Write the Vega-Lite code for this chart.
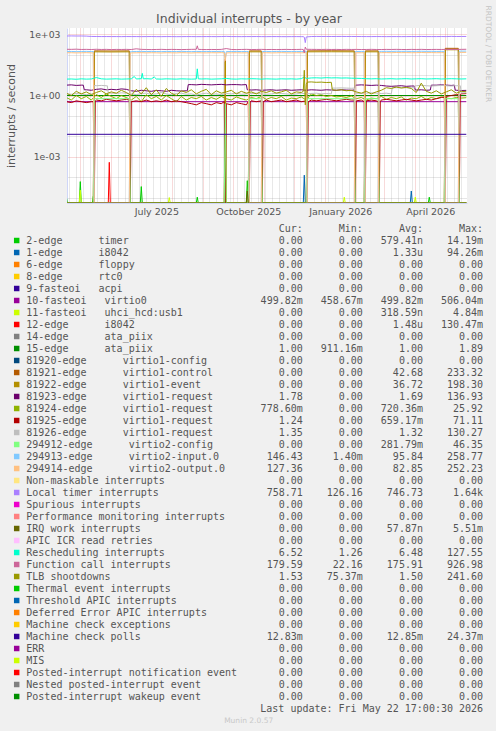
{
"$schema": "https://vega.github.io/schema/vega-lite/v6.json",
"background": "#f0f0f0",
"padding": {"left": 5, "top": 5, "right": 4, "bottom": 8},
"spacing": 7.5,
"title": {"text": "RRDTOOL / TOBI OETIKER", "orient": "right", "anchor": "start", "fontSize": 7.5, "font": "DejaVu Sans", "fontWeight": "normal", "color": "#c4c4c4", "offset": 1, "dx": -7},
"resolve": {"scale": {"color": "independent", "x": "independent", "y": "independent"}},
"config": {"view": {"stroke": null}, "font": "DejaVu Sans"},
"vconcat": [
{
"width": 400,
"height": 175,
"view": {"fill": "#ffffff", "stroke": null},
"title": {"text": "Individual interrupts - by year", "anchor": "middle", "frame": "group", "dx": -18, "fontSize": 12.5, "fontWeight": "normal", "color": "#555555", "font": "DejaVu Sans", "baseline": "alphabetic", "offset": -7},
"data": {"values": [
{"d":"2025-04-17","LOC":800,"CAL":180,"RES":6.3,"TLB":1.3,"R3":3.2,"R4":0.8,"R5":0.5,"R6":1.2,"VI":139,"VO":121,"T2":1.2e-5,"I1":0,"V0":0.5,"U11":0,"R12":0,"A15":1,"C1":0,"E1":0,"VC":0,"IWI":0,"MCP":0.0128},
{"d":"2025-04-18","T2":0},
{"d":"2025-04-22","LOC":805,"CAL":178,"RES":6.4,"TLB":1.0,"R3":3.3,"R4":0.6,"R5":0.45,"R6":1.15,"VI":141,"VO":122},
{"d":"2025-04-27","LOC":798,"CAL":182,"RES":6.2,"TLB":1.6,"R3":3.1,"R4":1.0,"R5":0.55,"R6":1.25,"VI":138,"VO":120},
{"d":"2025-04-30","T2":0,"U11":0},
{"d":"2025-05-01","T2":6.3e-5,"U11":2.4e-5},
{"d":"2025-05-02","LOC":800,"CAL":176,"RES":6.5,"TLB":1.2,"R3":3.2,"R4":0.7,"R5":0.5,"R6":1.2,"VI":140,"VO":121,"T2":0,"U11":0},
{"d":"2025-05-04","R3":3.2},
{"d":"2025-05-05","R3":1.9},
{"d":"2025-05-07","LOC":790,"CAL":178,"RES":6.3,"TLB":1.5,"R3":1.9,"R4":0.9,"R5":0.45,"R6":1.1,"VI":142,"VO":123},
{"d":"2025-05-12","LOC":760,"CAL":175,"RES":6.4,"TLB":1.1,"R3":1.8,"R4":0.6,"R5":0.5,"R6":1.2,"VI":139,"VO":120},
{"d":"2025-05-13","T2":0},
{"d":"2025-05-14","T2":1.2e-5,"C1":0,"E1":0,"VC":0,"VI":140,"VO":121,"R5":0.5,"R6":1.2},
{"d":"2025-05-15","T2":0,"C1":150,"E1":135,"VC":0.7,"VI":0,"VO":0,"R5":0,"R6":3.1},
{"d":"2025-05-16","R5":0.55},
{"d":"2025-05-17","LOC":755,"CAL":180,"RES":7.5,"TLB":1.4,"R3":2.0,"R4":1.1,"R5":0.6,"R6":3.0},
{"d":"2025-05-22","LOC":750,"CAL":176,"RES":6.5,"TLB":1.7,"R3":2.1,"R4":0.8,"R5":0.55,"R6":3.1},
{"d":"2025-05-27","LOC":752,"CAL":178,"RES":6.3,"TLB":1.2,"R3":1.9,"R4":1.2,"R5":0.65,"R6":3.0},
{"d":"2025-05-28","R6":3.0},
{"d":"2025-05-29","R6":1.3,"R12":0},
{"d":"2025-05-30","R12":5.5e-4},
{"d":"2025-05-31","R12":0},
{"d":"2025-06-01","LOC":748,"CAL":174,"RES":6.4,"TLB":1.5,"R3":2.0,"R4":0.9,"R5":0.6,"R6":1.3,"C1":148,"E1":133},
{"d":"2025-06-06","LOC":750,"CAL":177,"RES":6.5,"TLB":1.3,"R3":1.9,"R4":0.7,"R5":0.55,"R6":1.25},
{"d":"2025-06-11","LOC":745,"CAL":176,"RES":6.3,"TLB":1.8,"R3":2.1,"R4":1.0,"R5":0.6,"R6":1.35},
{"d":"2025-06-16","LOC":752,"CAL":178,"RES":6.4,"TLB":1.4,"R3":2.0,"R4":0.8,"R5":0.65,"R6":1.3},
{"d":"2025-06-19","C1":150,"E1":135,"VC":0.7,"VI":0,"VO":0,"R5":0.6},
{"d":"2025-06-20","C1":0,"E1":0,"VC":0,"VI":138,"VO":120,"R5":0},
{"d":"2025-06-21","LOC":748,"CAL":175,"RES":6.5,"TLB":1.0,"R3":1.7,"R4":0.6,"R5":0.5,"R6":1.2,"VI":138,"VO":120},
{"d":"2025-06-24","RES":8.5},
{"d":"2025-06-26","LOC":750,"CAL":190,"RES":6.4,"TLB":2.0,"R3":1.6,"R4":0.9,"R5":0.55,"R6":1.1,"VI":140,"VO":121},
{"d":"2025-06-30","T2":0},
{"d":"2025-07-01","LOC":745,"CAL":178,"RES":6.6,"TLB":1.2,"R3":1.8,"R4":0.5,"R5":0.5,"R6":1.25,"VI":142,"VO":123,"T2":3.6e-5},
{"d":"2025-07-02","RES":12,"T2":0},
{"d":"2025-07-03","RES":6.5},
{"d":"2025-07-06","LOC":748,"CAL":176,"RES":6.6,"TLB":2.4,"R3":1.7,"R4":1.1,"R5":0.6,"R6":1.3,"VI":139,"VO":120},
{"d":"2025-07-11","LOC":752,"CAL":174,"RES":6.4,"TLB":1.1,"R3":1.6,"R4":0.7,"R5":0.5,"R6":1.15,"VI":141,"VO":122},
{"d":"2025-07-14","RES":8},
{"d":"2025-07-16","LOC":746,"CAL":176,"RES":6.4,"TLB":1.9,"R3":1.75,"R4":0.9,"R5":0.55,"R6":1.2,"VI":140,"VO":121},
{"d":"2025-07-21","LOC":744,"CAL":178,"RES":6.3,"TLB":0.9,"R3":1.7,"R4":0.6,"R5":0.5,"R6":1.4,"VI":138,"VO":119},
{"d":"2025-07-26","LOC":750,"CAL":175,"RES":6.5,"TLB":2.2,"R3":1.6,"R4":1.0,"R5":0.6,"R6":1.2,"VI":141,"VO":122},
{"d":"2025-07-28","U11":0},
{"d":"2025-07-29","U11":1.05e-5},
{"d":"2025-07-30","U11":0},
{"d":"2025-07-31","LOC":748,"CAL":177,"RES":6.4,"TLB":1.3,"R3":1.8,"R4":0.7,"R5":0.5,"R6":1.1,"VI":140,"VO":121},
{"d":"2025-08-05","LOC":742,"CAL":176,"RES":6.3,"TLB":1.0,"R3":1.7,"R4":0.5,"R5":0.55,"R6":1.25,"VI":139,"VO":120},
{"d":"2025-08-10","LOC":745,"CAL":174,"RES":6.5,"TLB":1.7,"R3":1.65,"R4":0.9,"R5":0.5,"R6":1.3,"VI":142,"VO":123},
{"d":"2025-08-15","LOC":750,"CAL":176,"RES":6.4,"TLB":1.4,"R3":1.7,"R4":0.6,"R5":0.45,"R6":1.15,"VI":140,"VO":121},
{"d":"2025-08-16","R3":1.7},
{"d":"2025-08-17","R3":3.4},
{"d":"2025-08-20","LOC":748,"CAL":178,"RES":6.3,"TLB":1.9,"R3":3.4,"R4":0.8,"R5":0.4,"R6":1.2,"VI":138,"VO":119},
{"d":"2025-08-25","LOC":744,"CAL":180,"RES":6.4,"TLB":1.2,"R3":3.3,"R4":0.7,"R5":0.35,"R6":1.05,"VI":141,"VO":122,"T2":0},
{"d":"2025-08-26","CAL":265,"RES":20,"T2":1.1e-5},
{"d":"2025-08-27","CAL":178,"RES":6.5,"T2":0},
{"d":"2025-08-30","LOC":746,"CAL":176,"RES":6.4,"TLB":1.6,"R3":3.5,"R4":0.9,"R5":0.45,"R6":1.2,"VI":140,"VO":121},
{"d":"2025-09-04","LOC":750,"CAL":174,"RES":6.5,"TLB":2.0,"R3":3.4,"R4":0.6,"R5":0.4,"R6":1.3,"VI":139,"VO":120},
{"d":"2025-09-09","LOC":748,"CAL":176,"RES":6.3,"TLB":1.1,"R3":3.3,"R4":0.8,"R5":0.35,"R6":1.15,"VI":141,"VO":122},
{"d":"2025-09-14","LOC":745,"CAL":175,"RES":6.4,"TLB":1.7,"R3":3.4,"R4":0.65,"R5":0.45,"R6":1.2,"VI":140,"VO":121},
{"d":"2025-09-19","LOC":750,"CAL":177,"RES":6.5,"TLB":1.3,"R3":3.5,"R4":0.9,"R5":0.4,"R6":1.1,"VI":142,"VO":123},
{"d":"2025-09-22","C1":0,"E1":0,"VC":0,"R5":0.5,"U11":0,"R12":0,"VI":140,"VO":121},
{"d":"2025-09-23","C1":60,"E1":45,"VC":0.4,"VI":60,"VO":50,"R5":0,"U11":2e-5,"R12":1e-5},
{"d":"2025-09-24","LOC":765,"CAL":195,"RES":6.8,"TLB":1.5,"R3":3.3,"R4":0.7,"R5":0.4,"R6":1.25,"VI":139,"VO":120,"C1":0,"E1":0,"VC":0,"U11":0,"R12":0},
{"d":"2025-09-29","LOC":750,"CAL":176,"RES":6.4,"TLB":1.8,"R3":3.4,"R4":0.6,"R5":0.35,"R6":1.2,"VI":140,"VO":121},
{"d":"2025-10-04","LOC":748,"CAL":174,"RES":6.3,"TLB":1.2,"R3":3.4,"R4":0.85,"R5":0.45,"R6":1.3,"VI":141,"VO":122},
{"d":"2025-10-09","LOC":745,"CAL":176,"RES":6.5,"TLB":1.6,"R3":3.3,"R4":0.7,"R5":0.4,"R6":1.15,"VI":139,"VO":120},
{"d":"2025-10-14","LOC":750,"CAL":178,"RES":6.4,"TLB":1.3,"R3":3.4,"R4":0.6,"R5":0.35,"R6":1.2,"VI":140,"VO":121,"T2":0,"IWI":0},
{"d":"2025-10-15","T2":7e-5,"IWI":2.2e-5,"R3":1.9},
{"d":"2025-10-16","T2":0,"IWI":0,"C1":0,"E1":0,"VC":0,"VI":140,"VO":122,"R5":0.5},
{"d":"2025-10-17","C1":150,"E1":135,"VC":0.7,"VI":0,"VO":0,"R5":0},
{"d":"2025-10-18","R5":0.5},
{"d":"2025-10-19","LOC":748,"CAL":175,"RES":6.6,"TLB":1.5,"R3":1.85,"R4":0.8,"R5":0.55,"R6":1.25},
{"d":"2025-10-24","LOC":752,"CAL":176,"RES":6.5,"TLB":1.2,"R3":1.9,"R4":0.7,"R5":0.5,"R6":1.3},
{"d":"2025-10-29","LOC":746,"CAL":178,"RES":6.3,"TLB":1.6,"R3":1.8,"R4":0.9,"R5":0.55,"R6":1.2,"C1":150,"E1":135,"VC":0.7,"VI":0,"VO":0},
{"d":"2025-10-30","C1":0,"E1":0,"VC":0,"VI":140,"VO":122,"R5":0},
{"d":"2025-10-31","R5":0.5},
{"d":"2025-11-03","LOC":744,"CAL":175,"RES":6.5,"TLB":1.4,"R3":1.85,"R4":0.65,"R5":0.6,"R6":1.15,"VI":141,"VO":122},
{"d":"2025-11-08","LOC":748,"CAL":176,"RES":6.4,"TLB":1.7,"R3":1.9,"R4":0.8,"R5":0.5,"R6":1.2,"VI":139,"VO":120},
{"d":"2025-11-13","LOC":750,"CAL":174,"RES":6.3,"TLB":1.3,"R3":1.8,"R4":0.7,"R5":0.55,"R6":1.3,"VI":140,"VO":121},
{"d":"2025-11-18","LOC":745,"CAL":176,"RES":6.5,"TLB":1.5,"R3":1.85,"R4":0.9,"R5":0.6,"R6":1.25,"VI":142,"VO":123},
{"d":"2025-11-23","LOC":742,"CAL":177,"RES":6.4,"TLB":1.8,"R3":1.9,"R4":0.6,"R5":0.5,"R6":1.2,"VI":140,"VO":121},
{"d":"2025-11-28","LOC":746,"CAL":175,"RES":6.5,"TLB":1.2,"R3":1.8,"R4":0.75,"R5":0.55,"R6":1.15,"VI":139,"VO":120},
{"d":"2025-12-03","LOC":748,"CAL":176,"RES":6.3,"TLB":1.5,"R3":1.85,"R4":0.7,"R5":0.6,"R6":1.2,"VI":141,"VO":122},
{"d":"2025-12-08","LOC":745,"CAL":178,"RES":6.6,"TLB":1.4,"R3":1.9,"R4":0.85,"R5":0.5,"R6":1.3,"VI":140,"VO":121},
{"d":"2025-12-10","LOC":745,"CAL":176,"TLB":1.6,"I1":0},
{"d":"2025-12-11","LOC":700,"CAL":120,"TLB":17,"RES":8,"I1":1.3e-4},
{"d":"2025-12-12","LOC":380,"CAL":230,"TLB":0.35,"I1":0},
{"d":"2025-12-13","LOC":720,"CAL":180,"RES":6.8,"TLB":3.5,"R3":1.8,"R4":0.6,"R5":0.55,"R6":1.2,"VI":142,"VO":123,"C1":0,"E1":0,"VC":0},
{"d":"2025-12-14","C1":150,"E1":135,"VC":0.7,"VI":0,"VO":0,"R5":0,"TLB":4.5},
{"d":"2025-12-15","R5":0.5},
{"d":"2025-12-18","LOC":752,"CAL":178,"RES":7.2,"TLB":4.6,"R3":1.9,"R4":1.2,"R5":0.6,"R6":1.25},
{"d":"2025-12-23","LOC":760,"CAL":177,"RES":7.3,"TLB":4.4,"R3":1.85,"R4":1.0,"R5":0.55,"R6":1.3},
{"d":"2025-12-28","LOC":756,"CAL":176,"RES":7.1,"TLB":4.5,"R3":1.8,"R4":1.1,"R5":0.6,"R6":1.2},
{"d":"2026-01-02","LOC":758,"CAL":178,"RES":7.4,"TLB":4.3,"R3":1.9,"R4":0.9,"R5":0.65,"R6":1.25},
{"d":"2026-01-07","LOC":755,"CAL":176,"RES":7.2,"TLB":4.4,"R3":1.85,"R4":1.0,"R5":0.6,"R6":1.2,"C1":152,"E1":136},
{"d":"2026-01-08","R6":2.3,"TLB":1.9},
{"d":"2026-01-12","LOC":758,"CAL":177,"RES":7.3,"TLB":1.8,"R3":1.8,"R4":0.85,"R5":0.55,"R6":2.3},
{"d":"2026-01-17","LOC":760,"CAL":175,"RES":7.1,"TLB":1.9,"R3":1.9,"R4":0.9,"R5":0.6,"R6":2.35},
{"d":"2026-01-19","U11":0},
{"d":"2026-01-20","U11":1.1e-5},
{"d":"2026-01-21","U11":0},
{"d":"2026-01-22","LOC":756,"CAL":178,"RES":7.2,"TLB":1.7,"R3":1.85,"R4":0.8,"R5":0.65,"R6":2.3},
{"d":"2026-01-27","LOC":758,"CAL":176,"RES":7.0,"TLB":1.8,"R3":1.8,"R4":0.95,"R5":0.6,"R6":2.25},
{"d":"2026-01-30","C1":150,"E1":135,"VC":0.7,"VI":0,"VO":0,"R5":0.6,"R3":1.85,"R6":2.3},
{"d":"2026-01-31","C1":0,"E1":0,"VC":0,"VI":140,"VO":121,"R5":0,"R3":3.2,"R6":1.3},
{"d":"2026-02-01","LOC":755,"CAL":177,"RES":6.9,"TLB":1.5,"R3":3.2,"R4":0.7,"R5":0.55,"R6":1.3,"VI":140,"VO":121},
{"d":"2026-02-06","LOC":752,"CAL":175,"RES":6.8,"TLB":1.3,"R3":3.3,"R4":0.8,"R5":0.6,"R6":1.25,"VI":141,"VO":122},
{"d":"2026-02-09","C1":0,"E1":0,"VC":0,"VI":140,"VO":122,"R5":0.5},
{"d":"2026-02-10","C1":150,"E1":135,"VC":0.7,"VI":0,"VO":0,"R5":0},
{"d":"2026-02-11","LOC":750,"CAL":176,"RES":6.6,"TLB":1.6,"R3":3.2,"R4":0.6,"R5":0.55,"R6":1.3},
{"d":"2026-02-16","LOC":748,"CAL":178,"RES":6.5,"TLB":1.2,"R3":3.1,"R4":0.75,"R5":0.6,"R6":1.35},
{"d":"2026-02-21","LOC":752,"CAL":176,"RES":6.6,"TLB":1.5,"R3":3.2,"R4":0.7,"R5":0.55,"R6":1.3},
{"d":"2026-02-23","C1":150,"E1":135,"VC":0.7,"VI":0,"VO":0,"R5":0.5},
{"d":"2026-02-24","C1":0,"E1":0,"VC":0,"VI":142,"VO":123,"R5":0},
{"d":"2026-02-25","R5":0.5},
{"d":"2026-02-26","LOC":750,"CAL":175,"RES":6.4,"TLB":1.8,"R3":3.1,"R4":0.9,"R5":0.6,"R6":1.25,"VI":142,"VO":123},
{"d":"2026-03-03","LOC":746,"CAL":177,"RES":6.5,"TLB":2.4,"R3":2.9,"R4":0.65,"R5":0.65,"R6":1.3,"VI":143,"VO":124},
{"d":"2026-03-08","LOC":748,"CAL":176,"RES":6.6,"TLB":2.2,"R3":2.8,"R4":0.8,"R5":0.6,"R6":1.2,"VI":141,"VO":122},
{"d":"2026-03-09","R6":2.4},
{"d":"2026-03-13","LOC":750,"CAL":178,"RES":6.4,"TLB":2.6,"R3":2.9,"R4":0.7,"R5":0.55,"R6":2.4,"VI":144,"VO":125},
{"d":"2026-03-18","LOC":746,"CAL":176,"RES":6.5,"TLB":2.3,"R3":3.0,"R4":0.85,"R5":0.6,"R6":2.45,"VI":142,"VO":123},
{"d":"2026-03-23","LOC":748,"CAL":175,"RES":6.6,"TLB":2.5,"R3":2.8,"R4":0.6,"R5":0.65,"R6":2.4,"VI":143,"VO":124},
{"d":"2026-03-27","I1":0},
{"d":"2026-03-28","LOC":752,"CAL":177,"RES":6.4,"TLB":2.2,"R3":2.9,"R4":0.75,"R5":0.6,"R6":2.4,"VI":141,"VO":122,"I1":2.2e-5},
{"d":"2026-03-29","I1":0},
{"d":"2026-03-31","R3":2.9,"R6":2.4,"U11":0},
{"d":"2026-04-01","R3":1.85,"R6":3.0,"U11":1.1e-5},
{"d":"2026-04-02","LOC":748,"CAL":176,"RES":6.5,"TLB":1.4,"R3":1.85,"R4":0.7,"R5":0.55,"R6":3.0,"VI":142,"VO":123,"U11":0},
{"d":"2026-04-07","LOC":760,"CAL":178,"RES":6.6,"TLB":4.0,"R3":1.9,"R4":0.9,"R5":0.6,"R6":3.1,"VI":144,"VO":125},
{"d":"2026-04-12","LOC":750,"CAL":175,"RES":6.4,"TLB":1.6,"R3":1.8,"R4":0.65,"R5":0.65,"R6":3.0,"VI":142,"VO":123},
{"d":"2026-04-14","T2":0},
{"d":"2026-04-15","T2":1.1e-5},
{"d":"2026-04-16","T2":0,"R3":1.85},
{"d":"2026-04-17","LOC":748,"CAL":176,"RES":6.5,"TLB":1.3,"R3":3.2,"R4":0.8,"R5":0.6,"R6":2.9,"VI":143,"VO":124},
{"d":"2026-04-22","LOC":750,"CAL":177,"RES":6.6,"TLB":1.7,"R3":3.2,"R4":0.7,"R5":0.7,"R6":3.0,"VI":141,"VO":122},
{"d":"2026-04-27","LOC":752,"CAL":176,"RES":6.4,"TLB":1.2,"R3":3.3,"R4":0.85,"R5":0.8,"R6":3.1,"VI":142,"VO":123},
{"d":"2026-04-30","C1":0,"E1":0,"VC":0,"VI":142,"VO":124,"R5":0.85},
{"d":"2026-05-01","C1":200,"E1":170,"VC":0.7,"VI":0,"VO":0,"R5":0},
{"d":"2026-05-02","LOC":748,"CAL":178,"RES":6.5,"TLB":1.5,"R3":3.2,"R4":0.75,"R5":0.9,"R6":3.0},
{"d":"2026-05-07","LOC":765,"CAL":175,"RES":6.6,"TLB":1.9,"R3":3.1,"R4":0.7,"R5":1.0,"R6":2.9},
{"d":"2026-05-10","R3":3.2},
{"d":"2026-05-11","R3":1.8},
{"d":"2026-05-12","LOC":755,"CAL":176,"RES":6.5,"TLB":1.3,"R3":1.8,"R4":0.8,"R5":1.1,"R6":3.0},
{"d":"2026-05-14","C1":200,"E1":170,"VC":0.7,"VI":0,"VO":0,"R5":1.1},
{"d":"2026-05-15","C1":0,"E1":0,"VC":0,"VI":146,"VO":127,"R5":0},
{"d":"2026-05-16","R5":1.15,"R6":3.0},
{"d":"2026-05-17","LOC":758,"CAL":178,"RES":6.4,"TLB":1.6,"R3":1.75,"R4":0.75,"R5":1.2,"R6":1.35,"VI":146,"VO":127},
{"d":"2026-05-22","LOC":759,"CAL":180,"RES":6.5,"TLB":1.53,"R3":1.78,"R4":0.78,"R5":1.24,"R6":1.35,"VI":146.43,"VO":127.36,"C1":0,"E1":0,"VC":0,"T2":0,"I1":0,"U11":0,"R12":0,"IWI":0,"A15":1,"V0":0.5,"MCP":0.0128}
]},
"transform": [
{"fold": ["T2","I1","V0","U11","R12","A15","C1","E1","R3","R4","R5","R6","VC","VI","VO","LOC","IWI","RES","CAL","TLB","MCP"], "as": ["k","v"]},
{"filter": "isValid(datum.v)"}
],
"mark": {"type": "line", "strokeWidth": 1, "clip": true, "invalid": "show"},
"encoding": {
"x": {"field": "d", "type": "temporal",
 "scale": {"type": "utc", "domain": [{"year": 2025, "month": 4, "date": 17, "hours": 17, "utc": true}, {"year": 2026, "month": 5, "date": 22, "hours": 17, "utc": true}]},
 "axis": {"title": null, "tickCount": {"interval": "day", "step": 1}, "grid": true,
  "gridColor": {"condition": {"test": "utcdate(datum.value) == 1", "value": "rgba(222,79,79,0.42)"}, "value": "rgba(143,143,143,0.42)"},
  "gridOpacity": {"condition": {"test": "utcdate(datum.value) == 1 || utcday(datum.value) == 0", "value": 1}, "value": 0},
  "gridDash": [1, 1], "ticks": false, "domainColor": "#CFD6F8",
  "labelExpr": "utcdate(datum.value) == 16 && utcmonth(datum.value) % 3 == 0 ? utcFormat(datum.value, '%B %Y') : ''",
  "labelFlush": false, "labelOverlap": false, "labelFont": "DejaVu Sans", "labelFontSize": 9.5, "labelColor": "#555555", "labelPadding": 3}},
"y": {"field": "v", "type": "quantitative",
 "scale": {"type": "log", "domain": [5.7e-6, 1963], "nice": false, "clamp": true},
 "axis": {"title": "interrupts / second", "values": [0.00001, 0.0001, 0.001, 0.01, 0.1, 1, 10, 100, 1000], "grid": true,
  "gridColor": {"condition": {"test": "datum.value == 1000 || datum.value == 1 || datum.value == 0.001", "value": "rgba(222,79,79,0.45)"}, "value": "rgba(143,143,143,0.45)"},
  "gridDash": [1, 1], "ticks": false, "domainColor": "#CFD6F8", "labelOverlap": false,
  "labelExpr": "datum.value == 1000 ? '1e+03' : (datum.value == 1 ? '1e+00' : (datum.value == 0.001 ? '1e-03' : ''))",
  "labelFont": "DejaVu Sans", "labelFontSize": 9.3, "labelColor": "#555555", "labelPadding": 7,
  "titleFont": "DejaVu Sans", "titleFontSize": 11, "titleFontWeight": "normal", "titleColor": "#555555", "titlePadding": 12}},
"color": {"field": "k", "type": "nominal", "legend": null,
 "scale": {"domain": ["T2","I1","F6","RTC","ACPI","V0","U11","R12","A14","A15","CF1","C1","E1","R3","R4","R5","R6","VC","VI","VO","NMI","LOC","SPU","PMI","IWI","RTR","RES","CAL","TLB","TRM","THR","DFR","MCE","MCP","ERR","MIS","PIN","NPI","PIW"],
  "range": ["#00CC00","#0066B3","#FF8000","#FFCC00","#330099","#990099","#CCFF00","#FF0000","#808080","#008F00","#00487D","#B35A00","#B38F00","#6B006B","#8FB300","#B30000","#BEBEBE","#80FF80","#80C9FF","#FFC080","#FFE680","#AA80FF","#EE00CC","#FF8080","#666600","#FFBFFF","#00FFCC","#CC6699","#999900","#00CC00","#0066B3","#FF8000","#FFCC00","#330099","#990099","#CCFF00","#FF0000","#808080","#008F00"]}}
}
},
{
"width": 410,
"height": 492,
"view": {"stroke": null},
"data": {"values": [
{"k":"hdr","cur":"Cur:","min":"Min:","avg":"Avg:","max":"Max:"},
{"k":"T2","label":"2-edge      timer","cur":"0.00","min":"0.00","avg":"579.41n","max":"14.19m"},
{"k":"I1","label":"1-edge      i8042","cur":"0.00","min":"0.00","avg":"1.33u","max":"94.26m"},
{"k":"F6","label":"6-edge      floppy","cur":"0.00","min":"0.00","avg":"0.00","max":"0.00"},
{"k":"RTC","label":"8-edge      rtc0","cur":"0.00","min":"0.00","avg":"0.00","max":"0.00"},
{"k":"ACPI","label":"9-fasteoi   acpi","cur":"0.00","min":"0.00","avg":"0.00","max":"0.00"},
{"k":"V0","label":"10-fasteoi   virtio0","cur":"499.82m","min":"458.67m","avg":"499.82m","max":"506.04m"},
{"k":"U11","label":"11-fasteoi   uhci_hcd:usb1","cur":"0.00","min":"0.00","avg":"318.59n","max":"4.84m"},
{"k":"R12","label":"12-edge      i8042","cur":"0.00","min":"0.00","avg":"1.48u","max":"130.47m"},
{"k":"A14","label":"14-edge      ata_piix","cur":"0.00","min":"0.00","avg":"0.00","max":"0.00"},
{"k":"A15","label":"15-edge      ata_piix","cur":"1.00","min":"911.16m","avg":"1.00","max":"1.89"},
{"k":"CF1","label":"81920-edge      virtio1-config","cur":"0.00","min":"0.00","avg":"0.00","max":"0.00"},
{"k":"C1","label":"81921-edge      virtio1-control","cur":"0.00","min":"0.00","avg":"42.68","max":"233.32"},
{"k":"E1","label":"81922-edge      virtio1-event","cur":"0.00","min":"0.00","avg":"36.72","max":"198.30"},
{"k":"R3","label":"81923-edge      virtio1-request","cur":"1.78","min":"0.00","avg":"1.69","max":"136.93"},
{"k":"R4","label":"81924-edge      virtio1-request","cur":"778.60m","min":"0.00","avg":"720.36m","max":"25.92"},
{"k":"R5","label":"81925-edge      virtio1-request","cur":"1.24","min":"0.00","avg":"659.17m","max":"71.11"},
{"k":"R6","label":"81926-edge      virtio1-request","cur":"1.35","min":"0.00","avg":"1.32","max":"130.27"},
{"k":"VC","label":"294912-edge      virtio2-config","cur":"0.00","min":"0.00","avg":"281.79m","max":"46.35"},
{"k":"VI","label":"294913-edge      virtio2-input.0","cur":"146.43","min":"1.40m","avg":"95.84","max":"258.77"},
{"k":"VO","label":"294914-edge      virtio2-output.0","cur":"127.36","min":"0.00","avg":"82.85","max":"252.23"},
{"k":"NMI","label":"Non-maskable interrupts","cur":"0.00","min":"0.00","avg":"0.00","max":"0.00"},
{"k":"LOC","label":"Local timer interrupts","cur":"758.71","min":"126.16","avg":"746.73","max":"1.64k"},
{"k":"SPU","label":"Spurious interrupts","cur":"0.00","min":"0.00","avg":"0.00","max":"0.00"},
{"k":"PMI","label":"Performance monitoring interrupts","cur":"0.00","min":"0.00","avg":"0.00","max":"0.00"},
{"k":"IWI","label":"IRQ work interrupts","cur":"0.00","min":"0.00","avg":"57.87n","max":"5.51m"},
{"k":"RTR","label":"APIC ICR read retries","cur":"0.00","min":"0.00","avg":"0.00","max":"0.00"},
{"k":"RES","label":"Rescheduling interrupts","cur":"6.52","min":"1.26","avg":"6.48","max":"127.55"},
{"k":"CAL","label":"Function call interrupts","cur":"179.59","min":"22.16","avg":"175.91","max":"926.98"},
{"k":"TLB","label":"TLB shootdowns","cur":"1.53","min":"75.37m","avg":"1.50","max":"241.60"},
{"k":"TRM","label":"Thermal event interrupts","cur":"0.00","min":"0.00","avg":"0.00","max":"0.00"},
{"k":"THR","label":"Threshold APIC interrupts","cur":"0.00","min":"0.00","avg":"0.00","max":"0.00"},
{"k":"DFR","label":"Deferred Error APIC interrupts","cur":"0.00","min":"0.00","avg":"0.00","max":"0.00"},
{"k":"MCE","label":"Machine check exceptions","cur":"0.00","min":"0.00","avg":"0.00","max":"0.00"},
{"k":"MCP","label":"Machine check polls","cur":"12.83m","min":"0.00","avg":"12.85m","max":"24.37m"},
{"k":"ERR","label":"ERR","cur":"0.00","min":"0.00","avg":"0.00","max":"0.00"},
{"k":"MIS","label":"MIS","cur":"0.00","min":"0.00","avg":"0.00","max":"0.00"},
{"k":"PIN","label":"Posted-interrupt notification event","cur":"0.00","min":"0.00","avg":"0.00","max":"0.00"},
{"k":"NPI","label":"Nested posted-interrupt event","cur":"0.00","min":"0.00","avg":"0.00","max":"0.00"},
{"k":"PIW","label":"Posted-interrupt wakeup event","cur":"0.00","min":"0.00","avg":"0.00","max":"0.00"},
{"k":"upd","updated":"Last update: Fri May 22 17:00:30 2026"},
{"k":"ver","version":"Munin 2.0.57"}
]},
"transform": [
{"calculate": "isValid(datum.label) ? replace(datum.label, regexp(' ', 'g'), '\u00a0') : ''", "as": "lab"},
{"calculate": "!isValid(datum.cur) ? '' : test(regexp('[0-9]$'), datum.cur) ? datum.cur + '\u00a0' : test(regexp(':$'), datum.cur) ? datum.cur + '\u00a0\u00a0' : datum.cur", "as": "cTxt"},
{"calculate": "!isValid(datum.min) ? '' : test(regexp('[0-9]$'), datum.min) ? datum.min + '\u00a0' : test(regexp(':$'), datum.min) ? datum.min + '\u00a0\u00a0' : datum.min", "as": "nTxt"},
{"calculate": "!isValid(datum.avg) ? '' : test(regexp('[0-9]$'), datum.avg) ? datum.avg + '\u00a0' : test(regexp(':$'), datum.avg) ? datum.avg + '\u00a0\u00a0' : datum.avg", "as": "aTxt"},
{"calculate": "!isValid(datum.max) ? '' : test(regexp('[0-9]$'), datum.max) ? datum.max + '\u00a0' : test(regexp(':$'), datum.max) ? datum.max + '\u00a0\u00a0' : datum.max", "as": "xTxt"},
{"calculate": "isValid(datum.updated) ? datum.updated : ''", "as": "updTxt"},
{"calculate": "isValid(datum.version) ? datum.version : ''", "as": "verTxt"}
],
"encoding": {"y": {"field": "k", "type": "nominal", "sort": null, "axis": null, "scale": {"type": "point", "padding": 0}}},
"layer": [
{"mark": {"type": "square", "size": 30},
 "encoding": {
  "x": {"datum": -1.6, "type": "quantitative", "scale": {"domain": [6.77, 74.99], "nice": false, "zero": false}, "axis": null},
  "color": {"field": "k", "type": "nominal", "legend": null,
   "scale": {"domain": ["T2","I1","F6","RTC","ACPI","V0","U11","R12","A14","A15","CF1","C1","E1","R3","R4","R5","R6","VC","VI","VO","NMI","LOC","SPU","PMI","IWI","RTR","RES","CAL","TLB","TRM","THR","DFR","MCE","MCP","ERR","MIS","PIN","NPI","PIW"],
    "range": ["#00CC00","#0066B3","#FF8000","#FFCC00","#330099","#990099","#CCFF00","#FF0000","#808080","#008F00","#00487D","#B35A00","#B38F00","#6B006B","#8FB300","#B30000","#BEBEBE","#80FF80","#80C9FF","#FFC080","#FFE680","#AA80FF","#EE00CC","#FF8080","#666600","#FFBFFF","#00FFCC","#CC6699","#999900","#00CC00","#0066B3","#FF8000","#FFCC00","#330099","#990099","#CCFF00","#FF0000","#808080","#008F00"]}},
  "opacity": {"condition": {"test": "isValid(datum.label)", "value": 1}, "value": 0}}},
{"mark": {"type": "text", "align": "left", "baseline": "middle", "font": "DejaVu Sans Mono", "fontSize": 10, "color": "#555555"},
 "encoding": {"x": {"datum": 0, "type": "quantitative"}, "text": {"field": "lab", "type": "nominal"}}},
{"mark": {"type": "text", "align": "right", "baseline": "middle", "font": "DejaVu Sans Mono", "fontSize": 10, "color": "#555555"},
 "encoding": {"x": {"datum": 46, "type": "quantitative"}, "text": {"field": "cTxt", "type": "nominal"}}},
{"mark": {"type": "text", "align": "right", "baseline": "middle", "font": "DejaVu Sans Mono", "fontSize": 10, "color": "#555555"},
 "encoding": {"x": {"datum": 56, "type": "quantitative"}, "text": {"field": "nTxt", "type": "nominal"}}},
{"mark": {"type": "text", "align": "right", "baseline": "middle", "font": "DejaVu Sans Mono", "fontSize": 10, "color": "#555555"},
 "encoding": {"x": {"datum": 66, "type": "quantitative"}, "text": {"field": "aTxt", "type": "nominal"}}},
{"mark": {"type": "text", "align": "right", "baseline": "middle", "font": "DejaVu Sans Mono", "fontSize": 10, "color": "#555555"},
 "encoding": {"x": {"datum": 76, "type": "quantitative"}, "text": {"field": "xTxt", "type": "nominal"}}},
{"mark": {"type": "text", "align": "right", "baseline": "middle", "font": "DejaVu Sans Mono", "fontSize": 10, "color": "#555555"},
 "encoding": {"x": {"datum": 76, "type": "quantitative"}, "text": {"field": "updTxt", "type": "nominal"}}},
{"mark": {"type": "text", "align": "center", "baseline": "middle", "font": "DejaVu Sans", "fontSize": 7.5, "color": "#c8c8c8"},
 "encoding": {"x": {"datum": 37, "type": "quantitative"}, "text": {"field": "verTxt", "type": "nominal"}}}
]
}
]
}
